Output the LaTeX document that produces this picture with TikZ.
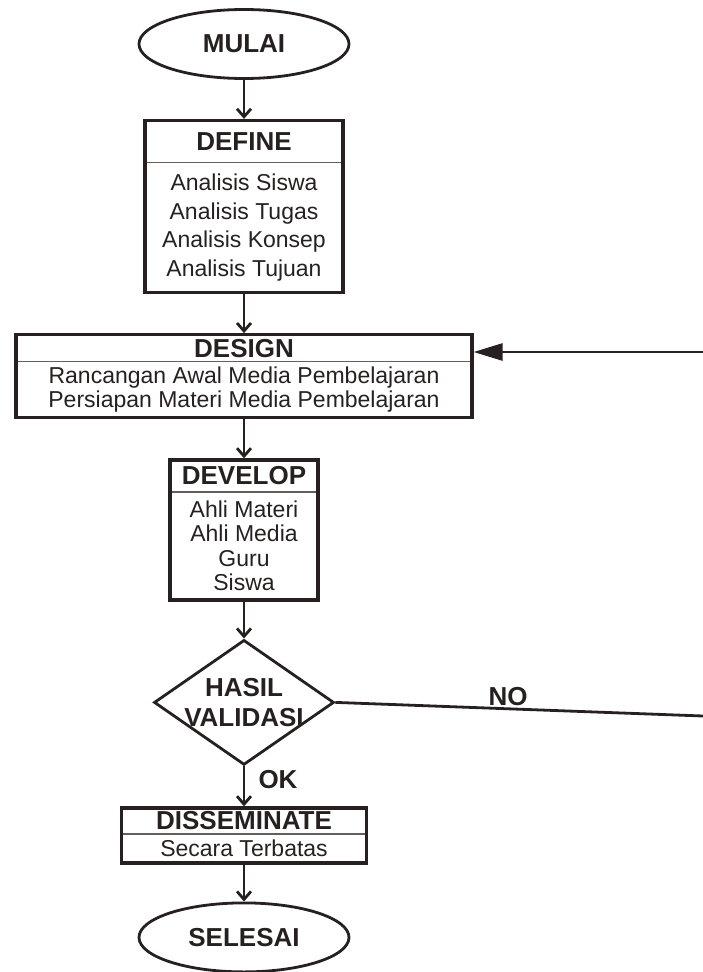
\documentclass[tikz,border=0pt]{standalone}
\usepackage{fontspec}
\setmainfont{Liberation Sans}
\usepackage{tikz}
\usetikzlibrary{positioning, arrows.meta, shapes.geometric}

\definecolor{ink}{RGB}{38,33,32}
\definecolor{splitgray}{RGB}{100,95,93}
\newcommand{\headfont}{\fontsize{26}{30}\selectfont\bfseries}
% head and body of a stage box, stacked: {head h}{body h}{width}{head}{skip}{body}
\newcommand{\stagetext}[6]{\vbox{%
  \hbox{\parbox[c][#1]{#3}{\centering\headfont #4}}\nointerlineskip
  \hbox{\parbox[c][#2]{#3}{\centering\fontsize{23}{#5}\selectfont #6}}}}
\newcommand{\splitline}[2]{\draw[divider] ([yshift=-#2]#1.north west) -- ([yshift=-#2]#1.north east);}

\begin{document}
\begin{tikzpicture}[x=1pt, y=1pt, node distance=39pt]
  \tikzstyle{terminal}=[ellipse, draw=ink, line width=2.8pt, text=ink, inner sep=0pt,
    minimum width=210pt, minimum height=69pt, font=\headfont]
  \tikzstyle{stage}=[rectangle, draw=ink, line width=3.2pt, text=ink, inner sep=0pt]
  \tikzstyle{decision}=[diamond, aspect=1.43, draw=ink, line width=2.8pt, text=ink, inner sep=-15pt,
    minimum width=180pt, minimum height=125pt, align=center, font=\headfont]
  \tikzstyle{tag}=[text=ink, inner sep=0pt, font=\headfont]
  \tikzstyle{divider}=[draw=splitgray, line width=1.4pt, shorten <=3.2pt, shorten >=3.2pt]
  \tikzstyle{flow}=[draw=ink, line width=2.8pt, -{Straight Barb[length=8pt, width=14pt]}]
  \tikzstyle{backflow}=[draw=ink, line width=2.8pt, -{Triangle[length=29pt, width=17pt]}]
  \tikzstyle{wire}=[draw=ink, line width=2.8pt]

  \useasboundingbox (0,0) rectangle (703,-972);

  \node[terminal] (mulai) at (244,-44) {MULAI};
  \node[stage] (define) [below=of mulai]
    {\stagetext{42pt}{130pt}{198pt}{DEFINE}{28.5pt}{Analisis Siswa\\Analisis Tugas\\Analisis Konsep\\Analisis Tujuan}};
  \node[stage] (design) [below=of define]
    {\stagetext{27pt}{56pt}{456pt}{DESIGN}{24pt}{Rancangan Awal Media Pembelajaran\\Persiapan Materi Media Pembelajaran}};
  \node[stage] (develop) [below=of design]
    {\stagetext{32pt}{108pt}{148pt}{DEVELOP}{24.5pt}{Ahli Materi\\Ahli Media\\Guru\\Siswa}};
  \node[decision] (check) [below=37pt of develop] {HASIL\\VALIDASI};
  \node[stage] (disseminate) [below=40pt of check]
    {\stagetext{26pt}{29pt}{245pt}{DISSEMINATE}{24pt}{Secara Terbatas}};
  \node[terminal] (selesai) [below=37pt of disseminate] {SELESAI};

  \node[tag] (nolabel) at (508,-697) {NO};
  \node[tag] (oklabel) at (278,-780) {OK};

  \coordinate (backin) at (703,-352);
  \coordinate (noout) at (703,-716);

  % head / body split lines
  \splitline{define}{43.6pt}
  \splitline{design}{28.6pt}
  \splitline{develop}{33.6pt}
  \splitline{disseminate}{27.6pt}

  \draw[flow] (mulai.south) -- (define.north);
  \draw[flow] (define.south) -- (design.north);
  \draw[flow] (design.south) -- (develop.north);
  \draw[flow] (develop.south) -- (check.north);
  \draw[flow] (check.south) -- (disseminate.north);
  \draw[flow] (disseminate.south) -- (selesai.north);

  \draw[wire] (check.east) -- (noout);
  \draw[backflow] (backin) -- (backin -| design.east);
\end{tikzpicture}
\end{document}
